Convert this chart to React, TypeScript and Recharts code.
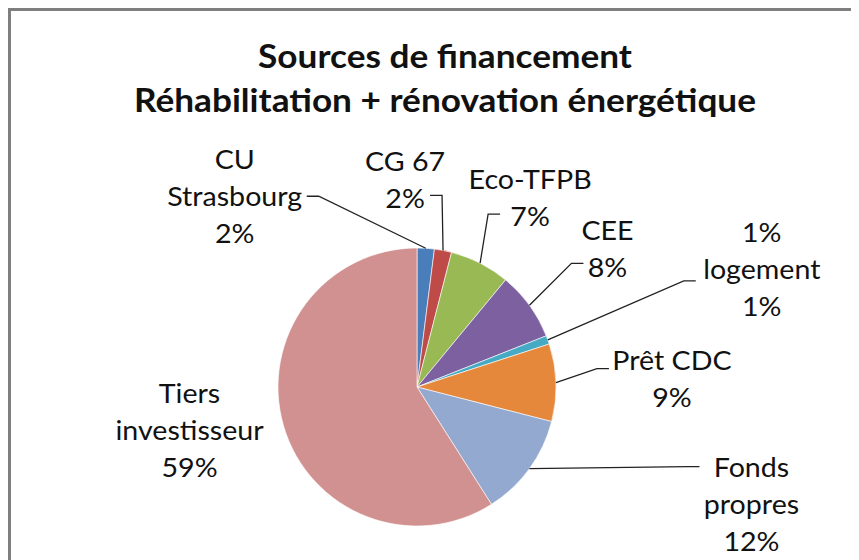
import React from "react";
import { PieChart, Pie, Cell } from "recharts";

// sources de financement, sens horaire depuis midi
const sources = [
  "CU\nStrasbourg",
  "CG 67",
  "Eco-TFPB",
  "CEE",
  "1%\nlogement",
  "Prêt CDC",
  "Fonds\npropres",
  "Tiers\ninvestisseur",
];
const shares = [2, 2, 7, 8, 1, 9, 12, 59];
const colors = [
  "#4a7ebb",
  "#be4b48",
  "#98b954",
  "#7d60a0",
  "#46aac5",
  "#e5883c",
  "#93a9cf",
  "#d29191",
];

// label placement relative to the slice's outer point
// tx/ty = text centre (first line), lx/ly = leader start
const labelLayout = [
  { tx: -191, ty: -90, lx: -119, ly: -52 },
  { tx: -38, ty: -90, lx: -13, ly: -55 },
  { tx: 50, ty: -85, lx: 20, ly: -49 },
  { tx: 78, ty: -76, lx: 54, ly: -42 },
  { tx: 214, ty: -108, lx: 148, ly: -59 },
  { tx: 116, ty: -23, lx: 53, ly: -14 },
  { tx: 222, ty: -2, lx: 170, ly: -2 },
  { tx: -94, ty: -33, lx: null, ly: null },
];

const data = sources.map((s, i) => ({ name: s, value: shares[i] }));

const RAD = Math.PI / 180;
const LINE_H = 37;

function renderLabel(props: any) {
  const { cx, cy, midAngle, outerRadius, percent, index, name } = props;
  const ax = cx + outerRadius * Math.cos(-midAngle * RAD);
  const ay = cy + outerRadius * Math.sin(-midAngle * RAD);
  const l = labelLayout[index];
  const lines = [...String(name).split("\n"), `${Math.round(percent * 100)}%`];
  const x = ax + l.tx;
  const y = ay + l.ty;

  let leader = null;
  if (l.lx !== null) {
    const sx = ax + l.lx;
    const sy = ay + l.ly;
    const ex = sx + (ax > sx ? 12 : -12);
    leader = (
      <polyline
        points={`${sx},${sy} ${ex},${sy} ${ax},${ay}`}
        fill="none"
        stroke="#222"
        strokeWidth={1.3}
      />
    );
  }

  return (
    <g key={`lbl-${index}`}>
      {leader}
      <text
        transform={`translate(${x} ${y}) scale(1.1 1)`}
        textAnchor="middle"
        dominantBaseline="central"
        fontFamily="Lato"
        fontSize={26}
        fill="#111"
      >
        {lines.map((t, i) => (
          <tspan key={i} x={0} y={i * LINE_H}>
            {t}
          </tspan>
        ))}
      </text>
    </g>
  );
}

export default function App() {
  return (
    <div
      style={{
        position: "relative",
        width: 851,
        height: 552,
        overflow: "hidden",
        background: "#fff",
        fontFamily: "Lato",
      }}
    >
      <div
        style={{
          position: "absolute",
          left: 0,
          top: 0,
          right: -10,
          bottom: -10,
          borderLeft: "3px solid #7f7f7f",
          borderTop: "3px solid #7f7f7f",
        }}
      />
      <div
        style={{
          position: "absolute",
          left: 0,
          top: 26,
          width: 874,
          textAlign: "center",
          fontWeight: 700,
          fontSize: 32,
          lineHeight: "44px",
          color: "#111",
          transform: "scaleX(1.1)",
        }}
      >
        Sources de financement
        <br />
        Réhabilitation + rénovation énergétique
      </div>
      <PieChart
        width={851}
        height={552}
        margin={{ top: 0, right: 0, bottom: 0, left: 0 }}
        style={{ position: "absolute", left: 0, top: 0 }}
      >
        <Pie
          data={data}
          dataKey="value"
          nameKey="name"
          cx={409}
          cy={379}
          outerRadius={139}
          startAngle={90}
          endAngle={-270}
          stroke="rgba(255,255,255,0.6)"
          strokeWidth={1}
          label={renderLabel}
          labelLine={false}
          isAnimationActive={false}
        >
          {data.map((d, i) => (
            <Cell key={d.name} fill={colors[i]} />
          ))}
        </Pie>
      </PieChart>
    </div>
  );
}
